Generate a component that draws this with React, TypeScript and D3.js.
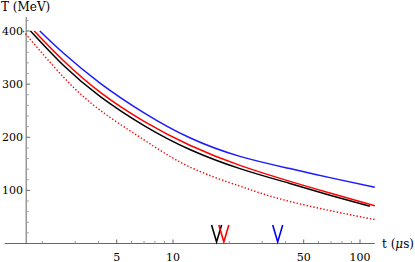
import React from "react";
import * as d3 from "d3";

// cooling curves T(t)
const tBlack = [1.73, 2.6, 4.07, 7, 12.3, 22.8, 42.2, 69, 113];
const TBlack = [400, 335, 277, 222, 177, 141, 113, 91, 70];

const tRed = [1.81, 2.6, 4.07, 7, 12.3, 22.8, 42.2, 69, 120];
const TRed = [400, 344, 285, 230, 185, 147, 117, 95, 71];

const tBlue = [1.94, 2.6, 4.07, 7, 12.3, 22.8, 42.2, 69, 120];
const TBlue = [400, 358, 302, 246, 199, 164, 141, 124, 106];

const tDotted = [1.58, 2.6, 4.07, 7, 12.3, 22.8, 37.3, 69, 120];
const TDotted = [400, 313, 251, 195, 144, 108, 84, 62, 45];

// markers on the time axis
const markT = [17.1, 18.7, 36.3];
const markColors = ["#000", "#f00", "#00f"];

const xMajor = [5, 10, 50, 100];
const xMinor = [2, 3, 4, 6, 7, 8, 9, 20, 30, 40, 60, 70, 80, 90];
const yMajor = [100, 200, 300, 400];
const yMinor = [20, 40, 60, 80, 120, 140, 160, 180, 220, 240, 260, 280, 320, 340, 360, 380, 420];

const W = 415;
const H = 262;
const font = "'DejaVu Serif', serif";

export default function App() {
  const x = d3.scaleLog().domain([10, 100]).range([173, 360]);
  const y = d3.scaleLinear().domain([0, 400]).range([243.5, 31]);

  const line = d3
    .line<[number, number]>()
    .x((d) => x(d[0]))
    .y((d) => y(d[1]))
    .curve(d3.curveNatural);

  const zip = (ts: number[], vs: number[]) => ts.map((t, i) => [t, vs[i]] as [number, number]);

  const axisColor = "#666";
  const y0 = y(0);
  const xAxisAt = x(1.64);

  return (
    <svg
      width={W}
      height={H}
      style={{ position: "absolute", left: 0, top: 0, background: "#fff" }}
    >
      {/* axes */}
      <line x1={x(1.26)} x2={x(120)} y1={y0} y2={y0} stroke={axisColor} strokeWidth={1} />
      <line x1={xAxisAt} x2={xAxisAt} y1={y0} y2={y(426)} stroke={axisColor} strokeWidth={1} />

      {xMajor.map((t) => (
        <g key={"xM" + t}>
          <line x1={x(t)} x2={x(t)} y1={y0} y2={y0 - 4} stroke={axisColor} />
          <text x={x(t)} y={260.5} textAnchor="middle" fontFamily={font} fontSize={11}>
            {t}
          </text>
        </g>
      ))}
      {xMinor.map((t) => (
        <line key={"xm" + t} x1={x(t)} x2={x(t)} y1={y0} y2={y0 - 2.5} stroke="#999" />
      ))}
      {yMajor.map((v) => (
        <g key={"yM" + v}>
          <line x1={xAxisAt} x2={xAxisAt + 4} y1={y(v)} y2={y(v)} stroke={axisColor} />
          <text x={23} y={y(v) + 4} textAnchor="end" fontFamily={font} fontSize={11}>
            {v}
          </text>
        </g>
      ))}
      {yMinor.map((v) => (
        <line key={"ym" + v} x1={xAxisAt} x2={xAxisAt + 2.5} y1={y(v)} y2={y(v)} stroke="#999" />
      ))}

      <text x={1} y={10.5} fontFamily={font} fontSize={12}>
        T (MeV)
      </text>
      <text x={382} y={248} fontFamily={font} fontSize={12}>
        t (<tspan fontStyle="italic">μ</tspan>s)
      </text>

      {/* curves */}
      <path d={line(zip(tDotted, TDotted)) || ""} fill="none" stroke="#f00" strokeWidth={1.4} strokeDasharray="1.4,2" />
      <path d={line(zip(tBlack, TBlack)) || ""} fill="none" stroke="#000" strokeWidth={1.5} />
      <path d={line(zip(tRed, TRed)) || ""} fill="none" stroke="#f00" strokeWidth={1.5} />
      <path d={line(zip(tBlue, TBlue)) || ""} fill="none" stroke="#1a1aff" strokeWidth={1.5} />

      {/* V markers */}
      {markT.map((t, i) => {
        const cx = x(t);
        return (
          <path
            key={"mk" + i}
            d={`M${cx - 5},225 L${cx},242 L${cx + 5},225`}
            fill="none"
            stroke={markColors[i]}
            strokeWidth={1.6}
          />
        );
      })}
    </svg>
  );
}
